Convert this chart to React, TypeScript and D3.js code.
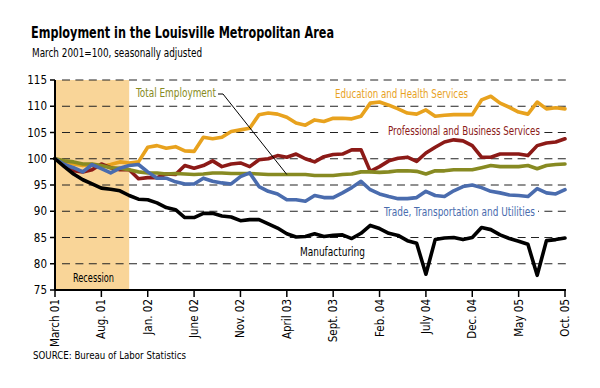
import React from 'react';
import * as d3 from 'd3';

// monthly index numbers, March 2001 = 100 (March 2001 .. Oct 2005)
const tickLabels = ['March 01', 'Aug. 01', 'Jan. 02', 'June 02', 'Nov. 02', 'April 03', 'Sept. 03', 'Feb. 04', 'July 04', 'Dec. 04', 'May 05', 'Oct. 05'];
const yTicks = [75, 80, 85, 90, 95, 100, 105, 110, 115];

const manufacturing = [100, 98.5, 97.1, 96, 95.2, 94.4, 94.2, 93.9, 93, 92.3, 92.2, 91.6, 90.7, 90.3, 88.8, 88.8, 89.6, 89.6, 89.1, 88.9, 88.2, 88.4, 88.4, 87.6, 86.8, 85.7, 85.1, 85.2, 85.7, 85.2, 85.4, 85.5, 84.8, 85.8, 87.3, 86.7, 85.8, 85.4, 84.4, 83.9, 78, 84.6, 84.9, 85, 84.6, 85, 86.9, 86.5, 85.5, 84.8, 84.3, 83.7, 77.8, 84.4, 84.6, 84.9];
const totalEmployment = [100, 99.6, 99.4, 99, 99, 98.7, 98.3, 98.2, 97.9, 97.5, 97.3, 97.3, 97.1, 97.2, 97.1, 97, 97.1, 97.3, 97.3, 97.2, 97.2, 97.2, 97.1, 97, 97, 97, 97, 97, 96.8, 96.8, 96.8, 97, 97.1, 97.5, 97.5, 97.4, 97.5, 97.7, 97.7, 97.6, 97.1, 97.7, 97.7, 97.9, 97.9, 97.9, 98.3, 98.7, 98.5, 98.5, 98.5, 98.7, 98.1, 98.7, 98.9, 99];
const eduHealth = [100, 99.5, 99, 98.7, 98.9, 98.5, 98.9, 99.4, 99.2, 99.4, 102.2, 102.5, 102, 102.3, 101.5, 101.4, 104.1, 103.8, 104.1, 105.2, 105.5, 105.8, 108.4, 108.7, 108.5, 107.9, 106.8, 106.4, 107.4, 107.1, 107.7, 107.7, 107.6, 108.1, 110.6, 110.8, 110.2, 109.5, 108.7, 108.5, 109.3, 108.1, 108.3, 108.4, 108.4, 108.4, 111.2, 111.9, 110.6, 109.8, 108.9, 108.5, 110.8, 109.5, 109.7, 109.5];
const profBusiness = [100, 98.9, 97.7, 97.5, 97.9, 99, 98.3, 97.9, 97.9, 96.2, 96.4, 96.4, 97.1, 97, 98.7, 98.2, 98.7, 99.6, 98.5, 99, 99.2, 98.5, 99.8, 100, 100.6, 100.3, 100.9, 100, 99.4, 100.4, 100.8, 100.9, 101.7, 101.7, 97.6, 98.5, 99.6, 100.1, 100.3, 99.5, 101.1, 102.2, 103.2, 103.6, 103.4, 102.5, 100.3, 100.3, 100.9, 100.9, 100.9, 100.6, 102.5, 103, 103.2, 103.8];
const tradeTransUtil = [100, 98.9, 98.3, 97.5, 98.9, 98.1, 97.3, 98.2, 98.7, 98.9, 97.5, 96.3, 96.3, 95.6, 95.2, 95.2, 96.3, 95.7, 95.4, 95.2, 96.6, 97.3, 94.7, 93.8, 93.3, 92.2, 92.2, 91.9, 93, 92.6, 92.6, 93.5, 94.5, 95.7, 94.1, 93.3, 92.8, 92.4, 92.4, 92.6, 93.8, 93, 92.8, 93.9, 94.7, 95, 94.5, 93.8, 93.5, 93.1, 93, 92.8, 94.3, 93.5, 93.3, 94.1];

const recessionMonths = 8; // March 2001 - Nov 2001

const FONT = "'Liberation Sans Narrow', 'DejaVu Sans Condensed', 'Roboto', sans-serif";

const series = [
    { name: 'Education and Health Services', values: eduHealth, color: '#E8A21E' },
    { name: 'Professional and Business Services', values: profBusiness, color: '#8C1A17' },
    { name: 'Total Employment', values: totalEmployment, color: '#878A22' },
    { name: 'Trade, Transportation and Utilities', values: tradeTransUtil, color: '#4A6CAE' },
    { name: 'Manufacturing', values: manufacturing, color: '#000000' },
];

const App: React.FC = () => {
    const width = 600;
    const height = 388;
    const plot = { left: 55, right: 565, top: 80, bottom: 290 };

    const x = d3.scaleLinear().domain([0, manufacturing.length - 1]).range([plot.left, plot.right]);
    const y = d3.scaleLinear().domain([75, 115]).range([plot.bottom, plot.top]);

    const line = d3.line<number>()
        .x((_, i) => x(i))
        .y(d => y(d))
        .curve(d3.curveLinear);

    const xTickIdx = tickLabels.map((_, i) => i * 5);

    return (
        <svg width={width} height={height} style={{ position: 'absolute', left: 0, top: 0, background: '#fff' }} fontFamily={FONT}>
            {/* title */}
            <text x={31} y={38} fontSize={15.5} fontWeight="bold" textLength={303} lengthAdjust="spacingAndGlyphs">
                Employment in the Louisville Metropolitan Area
            </text>
            <text x={32} y={57} fontSize={12.5} textLength={170} lengthAdjust="spacingAndGlyphs">
                March 2001=100, seasonally adjusted
            </text>

            {/* recession shading */}
            <rect x={x(0)} y={plot.top} width={x(recessionMonths) - x(0)} height={plot.bottom - plot.top} fill="#F9D598" />

            {/* grid */}
            {yTicks.filter(t => t > 75).map(t => (
                <line key={t} x1={62} x2={plot.right + 2} y1={y(t)} y2={y(t)} stroke="#222" strokeWidth={1} strokeDasharray="8,5.4" />
            ))}

            {/* label backgrounds that break the grid */}
            <rect x={383} y={124} width={160} height={13} fill="#fff" />
            <rect x={380} y={204} width={158} height={14} fill="#fff" />

            {/* series */}
            {series.map(s => (
                <path key={s.name} d={line(s.values) || ''} fill="none" stroke={s.color} strokeWidth={3.6} strokeLinejoin="round" strokeLinecap="round" />
            ))}

            {/* axes */}
            <line x1={plot.left} x2={plot.left} y1={plot.top} y2={plot.bottom} stroke="#000" strokeWidth={2} />
            <line x1={plot.left} x2={plot.right + 1} y1={plot.bottom} y2={plot.bottom} stroke="#000" strokeWidth={2} />
            {yTicks.map(t => (
                <g key={t}>
                    <line x1={plot.left - 5} x2={plot.left} y1={y(t)} y2={y(t)} stroke="#000" strokeWidth={1.5} />
                    <text x={47} y={y(t)} dy="0.35em" fontSize={11.5} textAnchor="end">{t}</text>
                </g>
            ))}
            {xTickIdx.map((idx, i) => (
                <g key={idx}>
                    <line x1={x(idx)} x2={x(idx)} y1={plot.bottom} y2={plot.bottom + 7} stroke="#000" strokeWidth={1.5} />
                    <text transform={`translate(${x(idx)},${plot.bottom + 9}) rotate(-90)`} dy="0.35em" fontSize={11.5} textAnchor="end">
                        {tickLabels[i]}
                    </text>
                </g>
            ))}

            {/* series labels */}
            <text x={136} y={97} fontSize={13} fill="#878A22" textLength={80} lengthAdjust="spacingAndGlyphs">Total Employment</text>
            <polyline points={`218,94 223,94 ${x(25)},${y(totalEmployment[25])}`} fill="none" stroke="#000" strokeWidth={1} />
            <text x={335} y={98} fontSize={13} fill="#E8A21E" textLength={133} lengthAdjust="spacingAndGlyphs">Education and Health Services</text>
            <text x={388} y={135} fontSize={13} fill="#8C1A17" textLength={152} lengthAdjust="spacingAndGlyphs">Professional and Business Services</text>
            <text x={384} y={216} fontSize={13} fill="#4A6CAE" textLength={151} lengthAdjust="spacingAndGlyphs">Trade, Transportation and Utilities</text>
            <text x={300} y={256} fontSize={13} fill="#000" textLength={65} lengthAdjust="spacingAndGlyphs">Manufacturing</text>
            <text x={73} y={282} fontSize={13} fill="#000" textLength={41} lengthAdjust="spacingAndGlyphs">Recession</text>

            {/* source */}
            <text x={33} y={359} fontSize={11} textLength={153} lengthAdjust="spacingAndGlyphs">SOURCE: Bureau of Labor Statistics</text>
        </svg>
    );
};

export default App;
